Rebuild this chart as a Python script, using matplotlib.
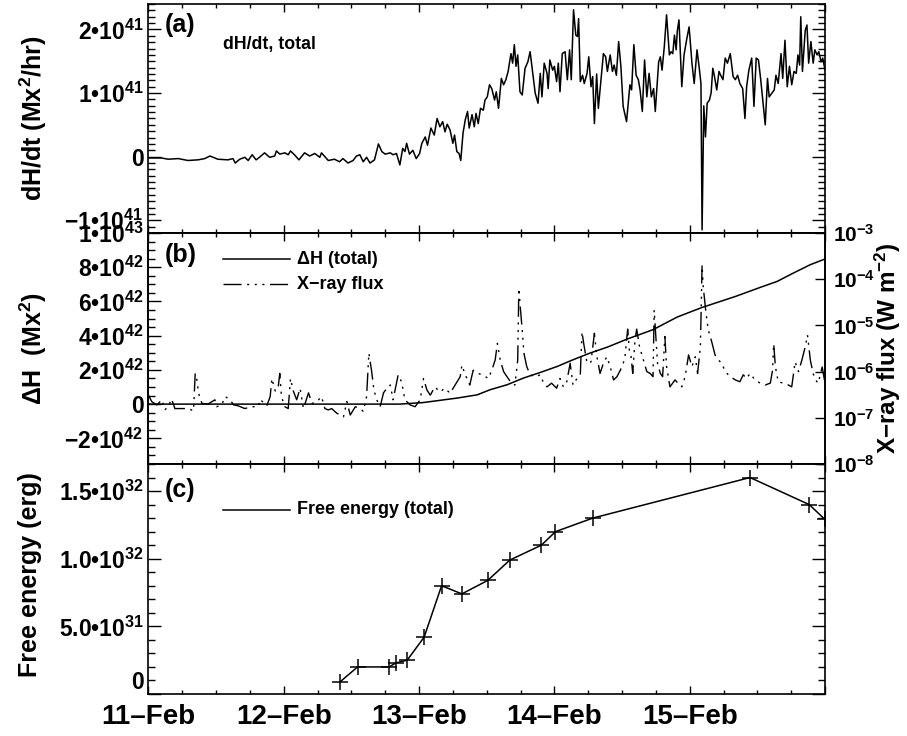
import numpy as np
import matplotlib
matplotlib.use("Agg")
import matplotlib.pyplot as plt
from matplotlib.ticker import FixedLocator, FixedFormatter, MultipleLocator

plt.rcParams['font.family'] = ['Liberation Sans', 'DejaVu Sans']
plt.rcParams['font.weight'] = 'bold'
plt.rcParams['axes.labelweight'] = 'bold'
plt.rcParams['mathtext.fontset'] = 'custom'
plt.rcParams['mathtext.rm'] = 'Liberation Sans:bold'
plt.rcParams['mathtext.it'] = 'Liberation Sans:bold'
plt.rcParams['mathtext.bf'] = 'Liberation Sans:bold'
plt.rcParams['mathtext.default'] = 'bf'

# ---- data (time in hours from 11-Feb 00:00) ----
day_labels = ['11\u2013Feb', '12\u2013Feb', '13\u2013Feb', '14\u2013Feb', '15\u2013Feb', '']

# (a) dH/dt, total, units of 1e41 Mx^2/hr
dhdt_t = [0, 2.3, 3.5, 5.3, 7.0, 8.8, 10.0, 10.9, 11.5, 12.3, 14.1, 15.0, 15.4, 16.2, 17.1,
          17.7, 18.4, 19.1, 19.7, 20.6, 21.5, 22.4, 22.7, 23.3, 24.2, 24.8, 25.2, 25.9, 26.7,
          27.7, 28.6, 29.5, 30.4, 30.7, 31.9, 33.0, 33.9, 34.5, 35.4, 36.3, 36.9, 37.5, 38.1,
          38.7, 39.3, 40.1, 40.8,
          41.4, 42.0, 42.9, 43.4, 44.0, 44.6, 45.1, 45.5, 45.8, 46.3, 46.9, 47.5, 48.1, 48.5,
          49.1, 49.5, 50.1, 50.7, 51.2, 51.7, 52.2, 52.6, 53.0, 53.5, 54.0, 54.3, 54.7, 55.1,
          55.4, 55.8, 56.2, 56.6, 56.9, 57.4, 57.8, 58.1, 58.5, 58.9, 59.4, 59.7, 60.1, 60.5,
          60.9, 61.4, 61.7, 62.1, 62.6, 63.0, 63.4, 63.8, 64.3, 64.6, 64.9, 65.2, 65.5, 65.9,
          66.3, 66.8, 67.3, 67.7, 68.1, 68.6, 69.1, 69.5, 69.8, 70.2, 70.7, 70.9, 71.2, 71.7,
          72.0, 72.4, 72.7, 73.0, 73.4, 73.9, 74.3, 74.7, 75.0, 75.4, 75.8, 76.1, 76.3, 76.6,
          77.0, 77.3, 77.8, 78.1, 78.5, 78.8, 79.1, 79.5, 79.8, 80.7,
          81.1, 81.4, 81.9, 82.3, 82.6, 83.0, 83.4, 83.8, 84.2, 84.8, 85.4, 85.7, 86.1, 86.5,
          86.9, 87.2, 87.6, 88.0, 88.4, 88.8, 89.2, 89.6, 89.9, 90.5, 90.8, 91.1, 91.5, 91.9,
          92.4, 92.7, 93.0, 93.3, 93.6, 93.8, 94.1, 94.6, 95.0, 95.5, 95.9, 96.4, 96.8, 97.3,
          97.7, 98.0, 98.2, 98.5, 98.8, 99.1, 99.5, 99.8, 100.1, 100.4, 100.8, 101.2, 101.5,
          101.9, 102.3, 102.7, 103.2, 103.7, 104.1, 104.5, 104.9, 105.4, 105.8, 106.1, 106.5,
          107.0, 107.4, 107.8, 108.2, 108.6, 109.0, 109.4, 109.8, 110.1, 110.6, 111.0, 111.3,
          111.7, 112.2, 112.5, 112.9, 113.3, 113.7, 114.1, 114.5, 114.9, 115.2, 115.5, 115.7,
          116.0, 116.5, 116.8, 117.1, 117.5, 117.9, 118.2, 118.6, 118.9, 119.3, 119.6, 120.0]
dhdt_v = [-0.02, -0.02, -0.04, -0.03, -0.06, -0.05, -0.03, 0.01, -0.01, -0.04, -0.05, -0.03,
          -0.10, -0.04, -0.01, -0.06, 0.03, -0.05, -0.01, 0.06, -0.01, 0.01, 0.09, 0.04, 0.06,
          0.03, 0.09, 0.03, -0.05, 0.06, 0.01, 0.05, -0.01, 0.06, -0.06, -0.04, -0.08, -0.03,
          -0.10, -0.06, 0.01, 0.03, -0.08, -0.01, -0.10, -0.05, 0.20,
          0.08, 0.04, 0.06, 0.03, 0.05, -0.13, 0.13, 0.08, 0.21, 0.04, 0.10, -0.03, 0.05, 0.21,
          0.31, 0.18, 0.45, 0.34, 0.60, 0.47, 0.55, 0.39, 0.51, 0.42, 0.21, 0.34, 0.08, 0.05,
          -0.06, 0.37, 0.58, 0.71, 0.45, 0.66, 0.47, 0.68, 0.52, 0.76, 0.73, 0.89, 0.94, 1.13,
          1.07, 0.89, 1.02, 0.76, 1.23, 1.13, 1.21, 1.34, 1.62, 1.47, 1.76, 1.42, 1.60, 1.02,
          0.97, 1.39, 1.49, 1.65, 1.36, 1.00, 0.84, 1.31, 0.94, 1.47, 1.31, 1.07, 1.52, 1.36,
          1.42, 1.18, 1.47, 1.02, 1.62, 1.65, 1.21, 1.68, 1.21, 2.31, 1.91, 1.89, 2.17, 1.18,
          1.28, 1.15, 1.31, 1.57, 1.10, 1.26, 0.52, 1.30, 0.76, 1.62,
          1.57, 1.34, 1.60, 1.34, 1.44, 1.28, 1.81, 1.42, 0.79, 0.55, 1.13, 1.05, 1.76, 1.28,
          1.21, 1.05, 0.71, 1.52, 0.94, 1.31, 0.94, 1.07, 0.71, 1.49, 1.57, 1.36, 1.73, 2.23,
          1.60, 1.65, 1.62, 1.91, 1.68, 1.97, 2.15, 1.10, 1.60, 1.86, 2.04, 1.47, 1.15, 1.68,
          1.39, 1.15, -1.15, 0.80, 0.31, 0.84, 0.89, 1.00, 1.39, 1.26, 1.05, 1.34, 1.28,
          1.21, 1.55, 1.47, 1.62, 1.26, 1.21, 1.28, 1.15, 1.07, 0.60, 1.10, 1.36,
          1.55, 0.79, 1.55, 1.52, 1.21, 0.86, 0.50, 1.23, 0.94, 1.00, 1.05, 1.28,
          1.15, 1.62, 1.23, 1.83, 1.10, 1.42, 1.13, 1.34, 1.31, 1.60, 1.44, 2.20,
          1.34, 1.99, 2.07, 1.47, 1.81, 1.47, 1.68, 1.60, 1.65, 1.49, 1.55, 1.36]

# (b) accumulated helicity, units of 1e42 Mx^2
dh_t = [0, 20, 44.6, 48.7, 54.7, 58.3, 60.6, 63.6, 66.5, 69.5, 72.5, 75.3, 78.3, 81.4,
        84.9, 89.5, 93.8, 98.2, 104.1, 108.5, 111.5, 114.4, 117.4, 120.0]
dh_v = [0, 0, 0, 0.09, 0.35, 0.54, 0.84, 1.13, 1.52, 1.85, 2.20, 2.59, 2.98, 3.33,
        3.80, 4.35, 5.09, 5.65, 6.29, 6.82, 7.17, 7.66, 8.15, 8.48]

# (b) GOES X-ray flux, log10(W m^-2)
xr_t = [0.0, 0.6, 1.5, 2.4, 2.9, 3.5, 4.1, 4.7, 5.9, 7.1, 8.0, 8.3, 8.6, 8.9, 9.5, 10.6,
        11.8, 12.1, 13.0, 13.6, 14.5, 15.1, 15.9, 17.1, 18.3, 19.5, 19.8, 20.4, 21.0, 21.6,
        21.9, 22.5, 23.0, 23.3, 23.6, 24.2, 24.8, 25.2, 25.7, 26.3, 26.9, 27.5, 28.4, 29.0,
        29.9, 30.7, 31.3, 31.9, 32.5, 33.4, 34.6, 35.2, 35.8, 36.7, 37.5, 38.1, 38.7, 39.1,
        39.6, 40.0, 40.5, 41.1, 41.7, 42.3, 42.9, 43.4, 44.3, 44.9, 45.5, 46.4, 47.3, 48.2,
        48.8, 49.4, 50.0, 50.8, 51.7, 52.6, 53.5, 54.4, 55.3, 55.6, 56.2, 57.0, 57.6, 58.5,
        59.4, 60.3, 60.9, 61.5, 61.9, 62.4, 63.0, 63.6, 64.4, 65.0, 65.5, 65.7, 66.0, 66.3,
        66.6, 67.1, 67.7, 68.6, 69.5, 70.1, 70.7, 71.5, 72.4, 73.0, 73.6, 74.2, 74.8, 75.3,
        76.0, 76.6, 76.9, 77.2, 77.8, 78.5, 79.1, 79.5, 80.1, 80.7, 81.3, 81.9, 82.5, 83.1,
        83.7, 84.1, 84.5, 85.0, 85.3, 85.6, 85.9, 86.3, 86.6, 87.1, 87.8, 88.4, 89.0, 89.5,
        89.7, 90.0, 90.3, 90.8, 91.2, 91.6, 91.9, 92.5, 93.4, 94.0, 94.6, 95.2, 95.8, 96.4,
        97.0, 97.4, 97.9, 98.2, 98.4, 98.9, 99.3, 99.9, 100.5, 101.1, 101.7, 102.3, 103.2,
        104.1, 104.9, 105.5, 106.1, 106.7, 107.6, 108.5, 109.4, 110.3, 110.7, 110.9, 111.2,
        111.7, 112.6, 113.5, 114.1, 114.7, 115.3, 115.9, 116.5, 116.9, 117.4, 117.9, 118.3,
        118.8, 119.5, 120.0]
xr_log = [-6.51, -6.65, -6.72, -6.61, -6.83, -6.76, -6.59, -6.80, -6.80, -6.80, -6.85, -6.04,
          -6.18, -6.47, -6.69, -6.70, -6.61, -6.76, -6.72, -6.54, -6.61, -6.72, -6.74, -6.80,
          -6.76, -6.76, -6.60, -6.67, -6.74, -6.54, -6.15, -6.42, -6.36, -6.04, -6.54, -6.76,
          -6.80, -6.15, -6.42, -6.61, -6.36, -6.80, -6.46, -6.69, -6.65, -6.54, -6.80, -6.83,
          -6.80, -6.90, -6.98, -6.65, -6.94, -6.76, -6.80, -6.86, -6.54, -5.60, -6.00, -6.40,
          -6.61, -6.76, -6.46, -6.36, -6.29, -6.61, -6.07, -6.22, -6.61, -6.72, -6.76, -6.61,
          -6.15, -6.40, -6.51, -6.33, -6.44, -6.36, -6.47, -6.29, -6.11, -5.86, -6.07, -6.29,
          -5.97, -6.04, -6.08, -6.15, -5.97, -5.75, -5.39, -5.75, -6.00, -6.11, -6.25, -6.29,
          -5.75, -4.20, -4.67, -5.10, -5.60, -5.89, -6.07, -6.11, -6.07, -6.25, -6.33, -6.25,
          -6.36, -6.15, -6.33, -6.22, -5.82, -6.29, -6.15, -6.07, -5.14, -5.39, -5.82, -5.79,
          -5.17, -5.64, -6.04, -5.82, -5.68, -5.89, -6.18, -6.11, -5.97, -5.86, -5.71, -5.08,
          -5.53, -5.67, -6.04, -5.32, -5.08, -5.46, -5.75, -6.00, -6.04, -6.11, -4.67, -5.24,
          -5.82, -6.04, -6.11, -5.24, -5.89, -6.33, -6.18, -6.26, -6.33, -6.11, -5.64, -5.89,
          -5.68, -6.04, -5.46, -3.69, -4.16, -4.74, -5.10, -5.35, -5.64, -5.75, -5.82, -6.00,
          -6.11, -6.18, -6.22, -6.07, -6.15, -6.04, -6.18, -6.25, -6.29, -6.25, -5.97, -5.40,
          -5.89, -6.22, -6.25, -6.29, -6.33, -5.79, -6.00, -5.75, -5.46, -5.21, -5.75, -6.04,
          -6.18, -6.25, -5.90, -6.25]

# (c) free energy, units of 1e32 erg
fe_t = [34.0, 37.1, 42.7, 43.9, 45.9, 48.9, 52.0, 55.6, 60.2, 64.1, 69.7, 72.2, 78.8,
        106.7, 117.2, 120.0]
fe_v = [0.09, 0.20, 0.20, 0.23, 0.25, 0.42, 0.80, 0.74, 0.84, 0.99, 1.10, 1.20, 1.30,
        1.60, 1.40, 1.29]

# ---- figure ----
W, H = 907, 736
fig = plt.figure(figsize=(W / 100, H / 100), dpi=100)
L, R = 148.4, 825.0

def box(top, bot):
    return [L / W, 1 - bot / H, (R - L) / W, (bot - top) / H]

axa = fig.add_axes(box(4, 233))
axb = fig.add_axes(box(233, 464), sharex=axa)
axc = fig.add_axes(box(464, 694), sharex=axa)

TL = 16.5
for ax in (axa, axb, axc):
    for s in ax.spines.values():
        s.set_linewidth(1.2)
    ax.tick_params(which='both', direction='in', top=True, right=True, labelsize=TL, pad=3.6)
    ax.tick_params(axis='y', which='major', length=9.4, width=1)
    ax.tick_params(axis='y', which='minor', length=4.7, width=1)
    ax.tick_params(axis='x', which='major', length=5.5, width=1)
    ax.tick_params(axis='x', which='minor', length=3, width=1)

axb.tick_params(which='both', right=False)

axa.set_xlim(0, 120)
axa.xaxis.set_major_locator(FixedLocator([0, 24, 48, 72, 96, 120]))
axa.xaxis.set_major_formatter(FixedFormatter(day_labels))
axa.xaxis.set_minor_locator(MultipleLocator(6))
axa.tick_params(axis='x', labelbottom=False)
axb.tick_params(axis='x', labelbottom=False)
axc.tick_params(axis='x', labelbottom=True, labelsize=20, pad=7)

# panel (a)
axa.plot(dhdt_t, np.array(dhdt_v) * 1e41, color='black', lw=1.1)
axa.set_ylim(-1.2e41, 2.4e41)
axa.yaxis.set_major_locator(FixedLocator([-1e41, 0, 1e41, 2e41]))
axa.yaxis.set_major_formatter(FixedFormatter(['\u22121\u202210$^{41}$', '0',
                                              '1\u202210$^{41}$', '2\u202210$^{41}$']))
axa.yaxis.set_minor_locator(MultipleLocator(1e40))
axa.set_ylabel('dH/dt (Mx$^{2}$/hr)', fontsize=18)
axa.yaxis.set_label_coords(-0.147, 0.5)
axa.text(0.0245, 0.908, '(a)', transform=axa.transAxes, fontsize=18, va='center')
axa.text(0.110, 0.821, 'dH/dt, total', transform=axa.transAxes, fontsize=12.8, va='center')

# panel (b)
axb.plot(dh_t, np.array(dh_v) * 1e42, color='black', lw=1.1)
axb.set_ylim(-3.5e42, 1e43)
axb.yaxis.set_major_locator(FixedLocator([-2e42, 0, 2e42, 4e42, 6e42, 8e42, 1e43]))
axb.yaxis.set_major_formatter(FixedFormatter(['\u22122\u202210$^{42}$', '0',
                                              '2\u202210$^{42}$', '4\u202210$^{42}$',
                                              '6\u202210$^{42}$', '8\u202210$^{42}$',
                                              '1\u202210$^{43}$']))
axb.yaxis.set_minor_locator(MultipleLocator(5e41))
axb.set_ylabel('\u0394H  (Mx$^{2}$)', fontsize=18)
axb.yaxis.set_label_coords(-0.147, 0.5)
axb.text(0.0245, 0.905, '(b)', transform=axb.transAxes, fontsize=18, va='center')

xr_dash = (13, 4, 1.5, 4, 1.5, 4, 1.5, 4)
axr = axb.twinx()
axr.set_yscale('log')
axr.plot(xr_t, 10 ** np.array(xr_log), color='black', lw=1.0, dashes=xr_dash)
axr.set_ylim(1e-8, 1e-3)
axr.set_yticks([1e-8, 1e-7, 1e-6, 1e-5, 1e-4, 1e-3])
axr.set_yticklabels(['10$^{-8}$', '10$^{-7}$', '10$^{-6}$', '10$^{-5}$',
                     '10$^{-4}$', '10$^{-3}$'])
axr.tick_params(axis='y', which='both', direction='in', labelsize=15, pad=5.8)
axr.tick_params(axis='y', which='major', length=7, width=1)
axr.tick_params(axis='y', which='minor', length=4, width=1)
axr.set_ylabel('X\u2212ray flux (W m$^{-2}$)', fontsize=17.5)
axr.yaxis.set_label_coords(1.071, 0.5)
for s in axr.spines.values():
    s.set_linewidth(1.2)

# legend (b)
axb.plot([0.110, 0.209], [0.887, 0.887], transform=axb.transAxes, color='black', lw=1.1)
axb.text(0.2196, 0.887, '\u0394H (total)', transform=axb.transAxes, fontsize=13, va='center')
axb.plot([0.110, 0.209], [0.779, 0.779], transform=axb.transAxes, color='black', lw=1.0,
         dashes=xr_dash)
axb.text(0.2196, 0.779, 'X\u2212ray flux', transform=axb.transAxes, fontsize=13, va='center')

# panel (c)
axc.plot(fe_t, np.array(fe_v) * 1e32, color='black', lw=1.1, marker='+', ms=11, mew=1.1)
axc.set_ylim(0, 1.7e32)
axc.yaxis.set_major_locator(FixedLocator([0, 5e31, 1e32, 1.5e32]))
axc.yaxis.set_major_formatter(FixedFormatter(['0', '5.0\u202210$^{31}$', '1.0\u202210$^{32}$',
                                              '1.5\u202210$^{32}$']))
axc.yaxis.set_minor_locator(MultipleLocator(1e31))
axc.set_ylabel('Free energy (erg)', fontsize=18)
axc.yaxis.set_label_coords(-0.157, 0.52)
axc.text(0.0245, 0.887, '(c)', transform=axc.transAxes, fontsize=18, va='center')
axc.plot([0.110, 0.209], [0.80, 0.80], transform=axc.transAxes, color='black', lw=1.1)
axc.text(0.2196, 0.80, 'Free energy (total)', transform=axc.transAxes, fontsize=13,
         va='center')
axc.yaxis.get_major_ticks()[0].label1.set_verticalalignment('bottom')

fig.savefig('out.png', dpi=100)
